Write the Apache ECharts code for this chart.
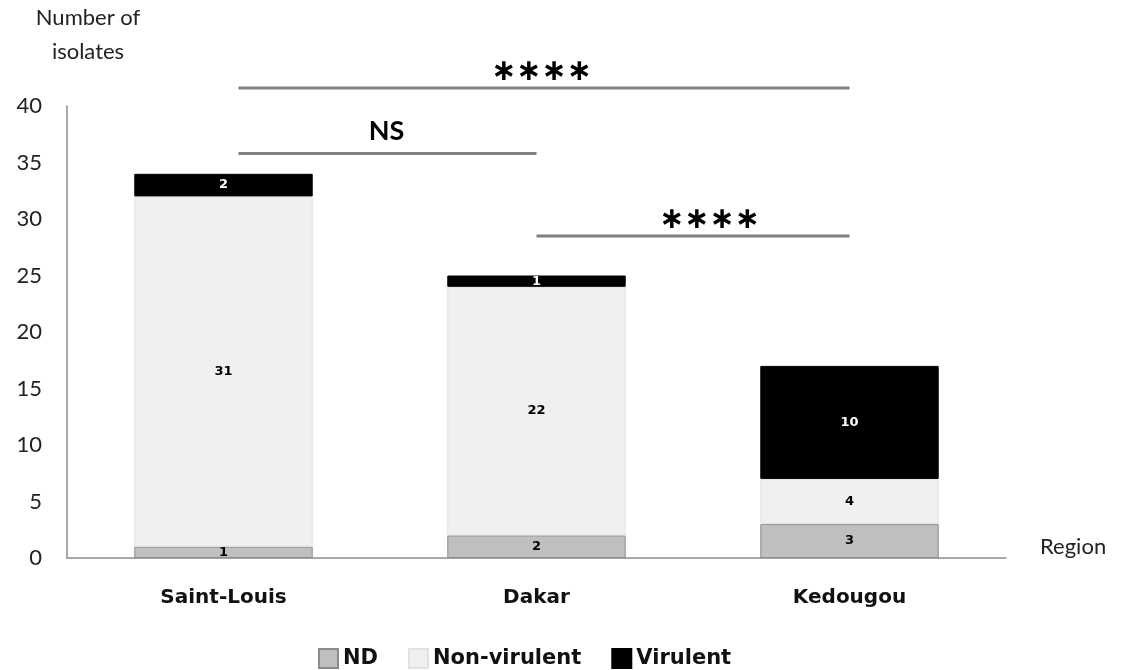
<!DOCTYPE html>
<html>
<head>
<meta charset="utf-8">
<script src="https://cdn.jsdelivr.net/npm/echarts@6/dist/echarts.min.js"></script>
<style>
  html, body { margin: 0; padding: 0; background: #fff; }
  #main { width: 1126px; height: 670px; }
</style>
</head>
<body>
<div id="main"></div>
<script>
// regions and isolate counts per category
var regions = ['Saint-Louis', 'Dakar', 'Kedougou']
var ndData = [1, 2, 3]
var nonVirulentData = [31, 22, 4]
var virulentData = [2, 1, 10]

// significance brackets: [from region, to region, label, height on y scale]
var sigFrom = [0, 0, 1]
var sigTo = [2, 1, 2]
var sigText = ['****', 'NS', '****']
var sigLevel = [41.6, 35.8, 28.5]

var myChart = echarts.init(document.getElementById('main'))

var labelFont = {
  show: true,
  position: 'inside',
  fontFamily: 'DejaVu Sans',
  fontWeight: 'bold',
  fontSize: 13,
  color: '#000'
}

myChart.setOption({
  animation: false,
  grid: { left: 67, right: 120, top: 106, bottom: 112, containLabel: false, outerBoundsMode: 'none' },
  legend: {
    top: 643,
    left: 313,
    itemWidth: 19,
    itemHeight: 19,
    itemGap: 30,
    icon: 'rect',
    textStyle: { fontFamily: 'DejaVu Sans', fontWeight: 'bold', fontSize: 21, color: '#111' },
    data: ['ND', 'Non-virulent', 'Virulent']
  },
  xAxis: {
    type: 'category',
    data: regions,
    name: 'Region',
    nameLocation: 'end',
    nameGap: 34,
    nameTextStyle: { fontFamily: 'Lato', fontSize: 22, color: '#222', verticalAlign: 'bottom' },
    axisLine: { lineStyle: { color: '#8c8c8c', width: 1.5 } },
    axisTick: { show: false },
    axisLabel: { margin: 30, fontFamily: 'DejaVu Sans', fontWeight: 'bold', fontSize: 20, color: '#111' }
  },
  yAxis: {
    type: 'value',
    min: 0,
    max: 40,
    interval: 5,
    name: 'Number of\nisolates',
    nameLocation: 'end',
    nameGap: 37,
    nameTextStyle: { fontFamily: 'Lato', fontSize: 22, color: '#222', align: 'center', lineHeight: 34, padding: [0, 0, 0, 42] },
    axisLine: { show: true, lineStyle: { color: '#8c8c8c', width: 1.5 } },
    axisTick: { show: false },
    splitLine: { show: false },
    axisLabel: { margin: 25, fontFamily: 'Lato', fontSize: 22, color: '#222' }
  },
  series: [
    {
      name: 'ND',
      type: 'bar',
      stack: 'total',
      barWidth: '57%',
      data: ndData,
      itemStyle: { color: '#bfbfbf', borderColor: '#8c8c8c', borderWidth: 1 },
      label: labelFont
    },
    {
      name: 'Non-virulent',
      type: 'bar',
      stack: 'total',
      data: nonVirulentData,
      itemStyle: { color: '#f0f0f0', borderColor: '#e2e2e2', borderWidth: 1 },
      label: labelFont
    },
    {
      name: 'Virulent',
      type: 'bar',
      stack: 'total',
      data: virulentData,
      itemStyle: { color: '#000000', borderColor: '#000', borderWidth: 1 },
      label: Object.assign({}, labelFont, { color: '#fff' })
    }
  ]
})

// draw the significance brackets through the chart's own scales
var elements = []
for (var i = 0; i < sigText.length; i++) {
  var a = myChart.convertToPixel({ gridIndex: 0 }, [sigFrom[i], sigLevel[i]])
  var b = myChart.convertToPixel({ gridIndex: 0 }, [sigTo[i], sigLevel[i]])
  var x1 = sigFrom[i] === 0 ? a[0] + 15 : a[0]
  elements.push({
    type: 'line',
    shape: { x1: x1, y1: a[1], x2: b[0], y2: b[1] },
    style: { stroke: '#808080', lineWidth: 3 }
  })
  var isStar = sigText[i] === '****'
  var cx = isStar ? (i === 0 ? x1 + 303 : x1 + 173) : (x1 + b[0]) / 2 - 1
  elements.push({
    type: 'text',
    x: cx,
    y: isStar ? a[1] - 16 : a[1] - 22,
    style: {
      text: isStar ? '∗∗∗∗' : sigText[i],
      fontFamily: isStar ? 'DejaVu Sans' : 'Lato',
      fontWeight: 'bold',
      fontSize: isStar ? 30 : 27,
      fill: '#000',
      align: 'center',
      verticalAlign: 'middle'
    }
  })
}
myChart.setOption({ graphic: elements })

window.addEventListener('resize', function () {
  myChart.resize()
})
</script>
</body>
</html>
